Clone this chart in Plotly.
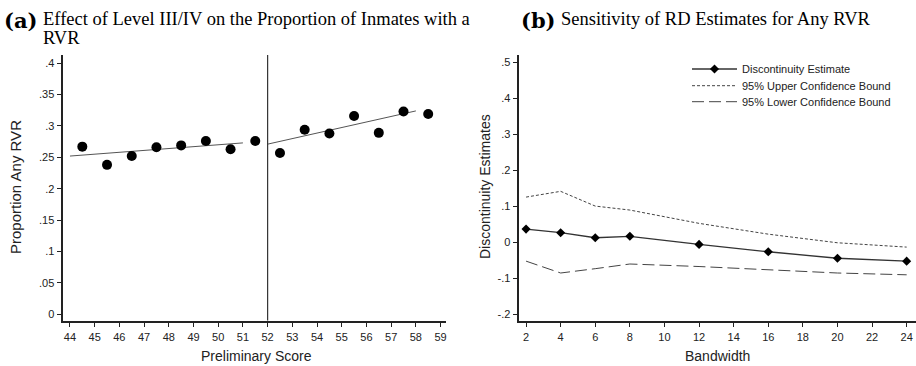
import plotly.graph_objects as go

# ---- Panel (a) data ----
score_left = [44.5, 45.5, 46.5, 47.5, 48.5, 49.5, 50.5, 51.5]
prop_left = [0.267, 0.238, 0.252, 0.266, 0.269, 0.276, 0.263, 0.276]
score_right = [52.5, 53.5, 54.5, 55.5, 56.5, 57.5, 58.5]
prop_right = [0.257, 0.294, 0.288, 0.316, 0.289, 0.323, 0.319]
fit_left_x = [44, 51]
fit_left_y = [0.252, 0.273]
fit_right_x = [52, 58]
fit_right_y = [0.271, 0.324]
cutoff = 52

a_xticks = list(range(44, 60))
a_yticks = [0, 0.05, 0.1, 0.15, 0.2, 0.25, 0.3, 0.35, 0.4]
a_yticktext = ["0", ".05", ".1", ".15", ".2", ".25", ".3", ".35", ".4"]

# ---- Panel (b) data ----
bandwidth = [2, 4, 6, 8, 12, 16, 20, 24]
estimate = [0.036, 0.026, 0.012, 0.016, -0.0065, -0.027, -0.045, -0.053]
upper_ci = [0.125, 0.141, 0.100, 0.089, 0.052, 0.022, -0.002, -0.014]
lower_ci = [-0.053, -0.086, -0.074, -0.061, -0.068, -0.077, -0.086, -0.091]

b_xticks = list(range(2, 25, 2))
b_yticks = [-0.2, -0.1, 0, 0.1, 0.2, 0.3, 0.4, 0.5]
b_yticktext = ["-.2", "-.1", "0", ".1", ".2", ".3", ".4", ".5"]

W, H = 916, 366
AX = "#222222"
LINE = "#444444"
A_YRANGE = [-0.0106, 0.4132]

fig = go.Figure()

# Panel (a)
fig.add_trace(go.Scatter(x=fit_left_x, y=fit_left_y, mode="lines",
                         line=dict(color="#555555", width=1), showlegend=False,
                         xaxis="x", yaxis="y"))
fig.add_trace(go.Scatter(x=fit_right_x, y=fit_right_y, mode="lines",
                         line=dict(color="#555555", width=1), showlegend=False,
                         xaxis="x", yaxis="y"))
fig.add_trace(go.Scatter(x=score_left + score_right, y=prop_left + prop_right,
                         mode="markers", marker=dict(color="black", size=10),
                         showlegend=False, xaxis="x", yaxis="y"))
fig.add_trace(go.Scatter(x=[cutoff, cutoff], y=A_YRANGE, mode="lines",
                         line=dict(color="#333333", width=1.2), showlegend=False,
                         xaxis="x", yaxis="y"))

# Panel (b)
fig.add_trace(go.Scatter(x=bandwidth, y=estimate, mode="lines+markers",
                         name="Discontinuity Estimate",
                         line=dict(color="#333333", width=1.3),
                         marker=dict(symbol="diamond", size=7, color="black"),
                         xaxis="x2", yaxis="y2", legend="legend"))
fig.add_trace(go.Scatter(x=bandwidth, y=upper_ci, mode="lines",
                         name="95% Upper Confidence Bound",
                         line=dict(color=LINE, width=1, dash="3px,2px"),
                         xaxis="x2", yaxis="y2", legend="legend2"))
fig.add_trace(go.Scatter(x=bandwidth, y=lower_ci, mode="lines",
                         name="95% Lower Confidence Bound",
                         line=dict(color=LINE, width=1, dash="12px,5px"),
                         xaxis="x2", yaxis="y2", legend="legend3"))

sans = "Liberation Sans, Arial, sans-serif"
serif = "Liberation Serif, Times New Roman, serif"
tickfont = dict(family=sans, size=11, color=AX)
axcommon = dict(showline=True, linecolor=AX, linewidth=1.5, ticks="outside",
                ticklen=5, tickcolor=AX, tickwidth=1, showgrid=False,
                zeroline=False, tickfont=tickfont, mirror=False)

y0 = (H - 320.7) / H
y1 = (H - 55) / H

legfont = dict(family=sans, size=11, color=AX)


def leg(ypix):
    return dict(x=687 / W, y=(H - ypix) / H, xanchor="left", yanchor="middle",
                bgcolor="rgba(0,0,0,0)", font=legfont, itemwidth=45,
                borderwidth=0)


fig.update_layout(
    width=W, height=H,
    margin=dict(l=0, r=0, t=0, b=0),
    paper_bgcolor="white", plot_bgcolor="white",
    xaxis=dict(domain=[63.3 / W, 446 / W], range=[43.73, 59.22],
               tickvals=a_xticks, anchor="y", **axcommon),
    yaxis=dict(domain=[y0, y1], range=A_YRANGE,
               tickvals=a_yticks, ticktext=a_yticktext, anchor="x", **axcommon),
    xaxis2=dict(domain=[519.3 / W, 1.0], range=[1.61, 24.54],
                tickvals=b_xticks, anchor="y2", **axcommon),
    yaxis2=dict(domain=[y0, y1], range=[-0.2186, 0.520],
                tickvals=b_yticks, ticktext=b_yticktext, anchor="x2", **axcommon),
    legend=leg(69),
    legend2=leg(85.7),
    legend3=leg(101.7),
    showlegend=True,
)

ann = [
    dict(text="<b>(a)</b>", x=2 / W, y=(H - 21) / H, xanchor="left", yanchor="middle",
         font=dict(family="DejaVu Serif, serif", size=21, color="black")),
    dict(text="Effect of Level III/IV on the Proportion of Inmates with a", x=41 / W,
         y=(H - 19) / H, xanchor="left", yanchor="middle",
         font=dict(family=serif, size=18.5, color="black")),
    dict(text="RVR", x=41 / W, y=(H - 38) / H, xanchor="left", yanchor="middle",
         font=dict(family=serif, size=18.5, color="black")),
    dict(text="<b>(b)</b>", x=519 / W, y=(H - 21) / H, xanchor="left", yanchor="middle",
         font=dict(family="DejaVu Serif, serif", size=21, color="black")),
    dict(text="Sensitivity of RD Estimates for Any RVR", x=559 / W,
         y=(H - 19) / H, xanchor="left", yanchor="middle",
         font=dict(family=serif, size=18.5, color="black")),
    dict(text="Proportion Any RVR", x=15 / W, y=(H - 187) / H, textangle=-90,
         xanchor="center", yanchor="middle", font=dict(family=sans, size=15, color=AX)),
    dict(text="Preliminary Score", x=256 / W, y=(H - 356) / H,
         xanchor="center", yanchor="middle", font=dict(family=sans, size=14, color=AX)),
    dict(text="Discontinuity Estimates", x=485 / W, y=(H - 187) / H, textangle=-90,
         xanchor="center", yanchor="middle", font=dict(family=sans, size=14, color=AX)),
    dict(text="Bandwidth", x=717 / W, y=(H - 356) / H,
         xanchor="center", yanchor="middle", font=dict(family=sans, size=14, color=AX)),
]
for a in ann:
    a.update(xref="paper", yref="paper", showarrow=False)
fig.update_layout(annotations=ann)

fig.write_html(
    "out.html",
    config={"displayModeBar": False},
    post_script="document.body.style.margin='0';document.body.style.overflow='hidden';",
)
